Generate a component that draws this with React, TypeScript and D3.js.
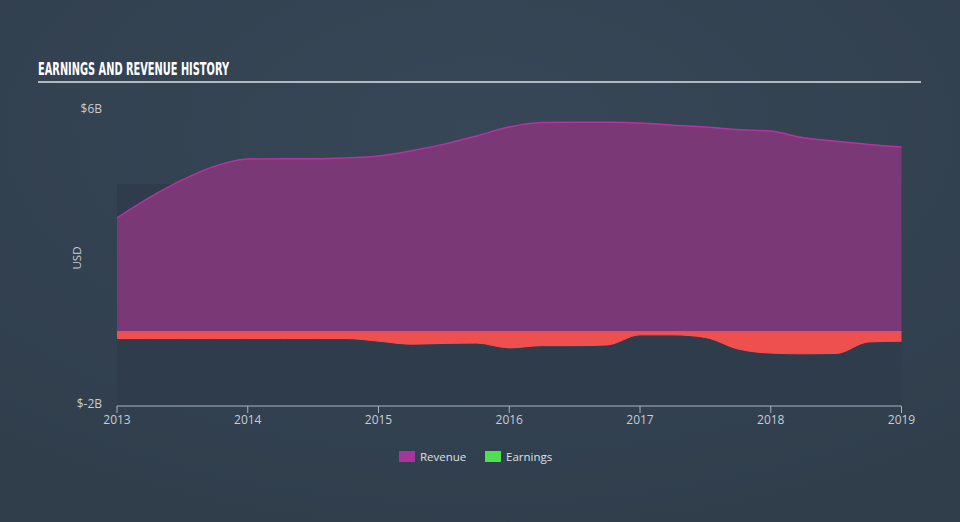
import React from "react";
import * as d3 from "d3";

const years = [2013, 2013.25, 2013.5, 2013.75, 2014, 2014.25, 2014.5, 2014.75, 2015, 2015.25, 2015.5, 2015.75, 2016, 2016.25, 2016.5, 2016.75, 2017, 2017.25, 2017.5, 2017.75, 2018, 2018.25, 2018.5, 2018.75, 2019];
const revenue = [3.05, 3.6, 4.07, 4.44, 4.63, 4.64, 4.64, 4.66, 4.71, 4.85, 5.03, 5.25, 5.49, 5.61, 5.62, 5.62, 5.6, 5.54, 5.49, 5.42, 5.38, 5.2, 5.11, 5.02, 4.95];
const earnings = [-0.19, -0.19, -0.19, -0.19, -0.19, -0.19, -0.19, -0.19, -0.26, -0.34, -0.32, -0.31, -0.44, -0.38, -0.38, -0.36, -0.09, -0.09, -0.16, -0.47, -0.58, -0.6, -0.59, -0.28, -0.26];
const xTicks = [2013, 2014, 2015, 2016, 2017, 2018, 2019];
const yTicks = [{ v: 6, label: "$6B" }, { v: -2, label: "$-2B" }];
const legendItems = [{ label: "Revenue", color: "#a8339a" }, { label: "Earnings", color: "#4fe04f" }];

export default function App() {
  const W = 960, H = 522;
  const x = d3.scaleLinear().domain([2013, 2019]).range([117, 901.5]);
  const y = d3.scaleLinear().domain([-2, 6]).range([406, 108]);
  const pts = years.map((t, i) => ({ t, r: revenue[i], e: earnings[i] }));
  const revArea = d3.area<any>().x(d => x(d.t)).y0(y(0)).y1(d => y(d.r)).curve(d3.curveMonotoneX);
  const revLine = d3.line<any>().x(d => x(d.t)).y(d => y(d.r)).curve(d3.curveMonotoneX);
  const earnArea = d3.area<any>().x(d => x(d.t)).y0(y(0)).y1(d => y(d.e)).curve(d3.curveMonotoneX);
  const earnLine = d3.line<any>().x(d => x(d.t)).y(d => y(d.e)).curve(d3.curveMonotoneX);
  const font = "'Open Sans', 'DejaVu Sans', sans-serif";
  return (
    <svg width={W} height={H} style={{ position: "absolute", left: 0, top: 0 }}>
      <defs>
        <radialGradient id="bg" cx="50%" cy="25%" r="80%">
          <stop offset="0%" stopColor="#374757" />
          <stop offset="100%" stopColor="#303e4c" />
        </radialGradient>
      </defs>
      <rect x={0} y={0} width={W} height={H} fill="url(#bg)" />
      <text x={38} y={75} fill="#ffffff" fontFamily="'DejaVu Sans Condensed', 'DejaVu Sans', sans-serif" fontWeight="bold" fontSize={17} style={{ fontStretch: "condensed" }} textLength={191} lengthAdjust="spacingAndGlyphs">EARNINGS AND REVENUE HISTORY</text>
      <rect x={38} y={81} width={883} height={2} fill="#b4b9bf" />
      <rect x={x(2013)} y={184} width={x(2019) - x(2013)} height={406 - 184} fill="#2e3c4b" />
      <path d={revArea(pts) || ""} fill="#7b3877" />
      <path d={revLine(pts) || ""} fill="none" stroke="#b3359f" strokeWidth={1.5} />
      <path d={earnArea(pts) || ""} fill="#ee5050" />
      <path d={earnLine(pts) || ""} fill="none" stroke="#ff4d4d" strokeWidth={1} />
      <line x1={x(2013)} x2={x(2019)} y1={y(0)} y2={y(0)} stroke="#f06a5a" strokeWidth={1} opacity={0.6} />
      {yTicks.map((t, i) => (
        <text key={t.label} x={102} y={y(t.v) + (i === 0 ? 4.5 : 1.5)} textAnchor="end" fill="#c8ccd2" fontFamily={font} fontSize={12}>{t.label}</text>
      ))}
      <text transform={`translate(81,258) rotate(-90)`} textAnchor="middle" fill="#c8ccd2" fontFamily={font} fontSize={11.5}>USD</text>
      <line x1={x(2013)} x2={x(2019)} y1={406} y2={406} stroke="#aab4c0" strokeWidth={1} />
      {xTicks.map(t => (
        <g key={t}>
          <line x1={x(t)} x2={x(t)} y1={406} y2={413} stroke="#aab4c0" strokeWidth={1} />
          <text x={x(t)} y={423.5} textAnchor="middle" fill="#c8ccd2" fontFamily={font} fontSize={12}>{t}</text>
        </g>
      ))}
      {legendItems.map((it, i) => {
        const lx = 399 + i * 86;
        return (
          <g key={it.label}>
            <rect x={lx} y={451} width={16} height={11} fill={it.color} />
            <text x={lx + 21} y={460.5} fill="#dde0e4" fontFamily={font} fontSize={11.5}>{it.label}</text>
          </g>
        );
      })}
    </svg>
  );
}
